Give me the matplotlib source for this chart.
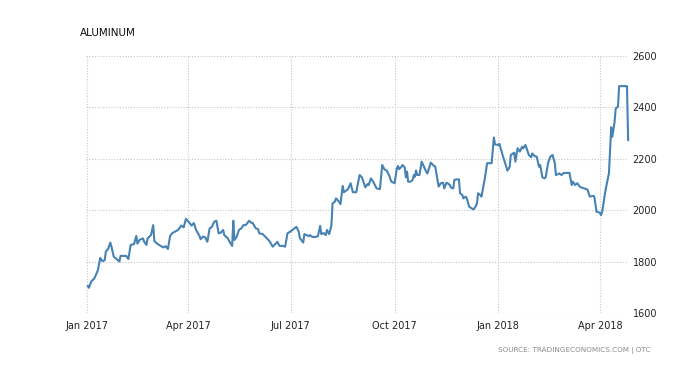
import matplotlib
matplotlib.use("Agg")
import matplotlib.pyplot as plt
import matplotlib.dates as mdates
import pandas as pd

title = "ALUMINUM"
source = "SOURCE: TRADINGECONOMICS.COM | OTC"

dates = [
    "2017-01-02", "2017-01-03", "2017-01-05", "2017-01-08", "2017-01-11", "2017-01-13", "2017-01-15",
    "2017-01-17", "2017-01-18", "2017-01-20", "2017-01-22", "2017-01-23", "2017-01-25", "2017-01-28",
    "2017-01-30", "2017-01-31", "2017-02-05", "2017-02-07", "2017-02-09", "2017-02-12", "2017-02-14",
    "2017-02-15", "2017-02-17", "2017-02-20", "2017-02-21", "2017-02-23", "2017-02-24", "2017-02-27",
    "2017-03-01", "2017-03-02", "2017-03-05", "2017-03-08", "2017-03-10", "2017-03-12", "2017-03-14",
    "2017-03-16", "2017-03-18", "2017-03-23", "2017-03-26", "2017-03-28", "2017-03-30", "2017-04-02",
    "2017-04-04", "2017-04-06", "2017-04-08", "2017-04-11", "2017-04-12", "2017-04-14", "2017-04-16",
    "2017-04-18", "2017-04-20", "2017-04-22", "2017-04-24", "2017-04-26", "2017-04-28", "2017-04-30",
    "2017-05-02", "2017-05-03", "2017-05-06", "2017-05-08", "2017-05-10", "2017-05-11", "2017-05-12",
    "2017-05-14", "2017-05-16", "2017-05-18", "2017-05-20", "2017-05-22", "2017-05-25", "2017-05-27",
    "2017-05-28", "2017-05-31", "2017-06-02", "2017-06-03", "2017-06-06", "2017-06-09", "2017-06-12",
    "2017-06-15", "2017-06-17", "2017-06-19", "2017-06-21", "2017-06-24", "2017-06-26", "2017-06-28",
    "2017-07-01", "2017-07-04", "2017-07-06", "2017-07-08", "2017-07-09", "2017-07-12", "2017-07-13",
    "2017-07-15", "2017-07-17", "2017-07-18", "2017-07-20", "2017-07-23", "2017-07-25", "2017-07-27",
    "2017-07-28", "2017-07-30", "2017-08-01", "2017-08-02", "2017-08-04", "2017-08-06", "2017-08-07",
    "2017-08-09", "2017-08-10", "2017-08-12", "2017-08-14", "2017-08-16", "2017-08-17", "2017-08-20",
    "2017-08-21", "2017-08-23", "2017-08-25", "2017-08-28", "2017-08-29", "2017-08-31", "2017-09-02",
    "2017-09-03", "2017-09-05", "2017-09-07", "2017-09-08", "2017-09-10", "2017-09-12", "2017-09-15",
    "2017-09-18", "2017-09-19", "2017-09-20", "2017-09-22", "2017-09-24", "2017-09-26", "2017-09-28",
    "2017-10-01", "2017-10-03", "2017-10-04", "2017-10-05", "2017-10-07", "2017-10-08", "2017-10-10",
    "2017-10-11", "2017-10-12", "2017-10-13", "2017-10-15", "2017-10-17", "2017-10-18", "2017-10-19",
    "2017-10-20", "2017-10-21", "2017-10-23", "2017-10-25", "2017-10-27", "2017-10-29", "2017-10-30",
    "2017-11-01", "2017-11-02", "2017-11-05", "2017-11-06", "2017-11-08", "2017-11-09", "2017-11-11",
    "2017-11-13", "2017-11-14", "2017-11-16", "2017-11-17", "2017-11-19", "2017-11-20", "2017-11-22",
    "2017-11-23", "2017-11-25", "2017-11-27", "2017-11-28", "2017-11-30", "2017-12-01", "2017-12-03",
    "2017-12-04", "2017-12-06", "2017-12-08", "2017-12-10", "2017-12-12", "2017-12-13", "2017-12-14",
    "2017-12-16", "2017-12-17", "2017-12-20", "2017-12-22", "2017-12-25", "2017-12-26", "2017-12-28",
    "2017-12-29", "2018-01-01", "2018-01-02", "2018-01-03", "2018-01-05", "2018-01-07", "2018-01-09",
    "2018-01-11", "2018-01-12", "2018-01-15", "2018-01-16", "2018-01-18", "2018-01-20", "2018-01-22",
    "2018-01-23", "2018-01-25", "2018-01-26", "2018-01-28", "2018-01-30", "2018-01-31", "2018-02-02",
    "2018-02-04", "2018-02-06", "2018-02-07", "2018-02-09", "2018-02-11", "2018-02-12", "2018-02-14",
    "2018-02-16", "2018-02-18", "2018-02-20", "2018-02-21", "2018-02-24", "2018-02-26", "2018-02-28",
    "2018-03-02", "2018-03-05", "2018-03-07", "2018-03-08", "2018-03-10", "2018-03-12", "2018-03-14",
    "2018-03-16", "2018-03-18", "2018-03-21", "2018-03-23", "2018-03-26", "2018-03-27", "2018-03-29",
    "2018-04-01", "2018-04-02", "2018-04-03", "2018-04-06", "2018-04-09", "2018-04-11", "2018-04-12",
    "2018-04-14", "2018-04-15", "2018-04-17", "2018-04-18", "2018-04-25", "2018-04-26",
]

prices = [
    1705, 1698, 1722, 1736, 1767, 1814, 1802,
    1805, 1839, 1849, 1874, 1858, 1819, 1808,
    1800, 1822, 1822, 1810, 1865, 1868, 1900,
    1870, 1885, 1890, 1877, 1865, 1890, 1903,
    1942, 1880, 1868, 1860, 1855, 1860, 1849,
    1900, 1911, 1923, 1940, 1933, 1966, 1952,
    1940, 1950, 1923, 1900, 1887, 1897, 1895,
    1877, 1929, 1935, 1955, 1959, 1910, 1913,
    1923, 1903, 1891, 1875, 1861, 1959, 1884,
    1897, 1923, 1929, 1942, 1942, 1959, 1951,
    1951, 1929, 1926, 1910, 1907, 1894, 1880,
    1858, 1867, 1877, 1861, 1861, 1858, 1910,
    1918, 1929, 1935, 1916, 1891, 1874, 1907,
    1903, 1899, 1903, 1896, 1896, 1899, 1939,
    1907, 1911, 1903, 1923, 1907, 1942, 2027,
    2033, 2046, 2037, 2024, 2094, 2070, 2079,
    2085, 2105, 2070, 2070, 2094, 2137, 2128,
    2115, 2089, 2102, 2098, 2124, 2111, 2085,
    2082, 2128, 2176, 2159, 2154, 2137, 2112,
    2105, 2163, 2172, 2160, 2169, 2176, 2166,
    2128, 2150, 2111, 2111, 2118, 2137, 2130,
    2155, 2137, 2137, 2189, 2170, 2150, 2143,
    2170, 2185, 2172, 2170, 2117, 2092, 2105,
    2107, 2085, 2107, 2105, 2098, 2088, 2085,
    2118, 2120, 2120, 2066, 2059, 2046, 2053,
    2046, 2014, 2008, 2003, 2016, 2027, 2066,
    2059, 2053, 2124, 2183, 2183, 2183, 2283,
    2256, 2254, 2258, 2241, 2210, 2183, 2154,
    2169, 2215, 2224, 2189, 2241, 2228, 2247,
    2241, 2254, 2241, 2215, 2206, 2221, 2211,
    2208, 2169, 2176, 2128, 2124, 2130, 2183,
    2208, 2215, 2183, 2137, 2143, 2137, 2145,
    2145, 2145, 2098, 2111, 2098, 2105, 2092,
    2088, 2085, 2080, 2053, 2056, 2053, 1994,
    1990, 1981, 1994, 2079, 2144, 2323, 2286,
    2344, 2396, 2403, 2483, 2483, 2273,
]

xtick_dates = ["2017-01-01", "2017-04-01", "2017-07-01", "2017-10-01", "2018-01-01", "2018-04-01"]
xtick_labels = ["Jan 2017", "Apr 2017", "Jul 2017", "Oct 2017", "Jan 2018", "Apr 2018"]
yticks = [1600, 1800, 2000, 2200, 2400, 2600]

x = pd.to_datetime(dates)

fig = plt.figure(figsize=(6.92, 3.84), dpi=100)
ax = fig.add_axes([0.1236, 0.185, 0.7845, 0.669])

ax.plot(x, prices, color="#4682b4", linewidth=1.5, solid_joinstyle="round", clip_on=False)

ax.set_xlim(pd.Timestamp("2016-12-31"), pd.Timestamp("2018-04-26 06:00"))
ax.set_ylim(1600, 2600)
ax.set_xticks(pd.to_datetime(xtick_dates))
ax.set_xticklabels(xtick_labels)
ax.set_yticks(yticks)
ax.yaxis.tick_right()
ax.tick_params(axis="both", length=0, labelsize=7, colors="#222222")
ax.tick_params(axis="x", pad=6)
ax.tick_params(axis="y", pad=3)
for s in ax.spines.values():
    s.set_visible(False)
ax.grid(True, color="#c8c8c8", linestyle=(0, (1, 1.5)), linewidth=0.8)
ax.set_axisbelow(True)

fig.text(80 / 692, 1 - 33 / 384, title, fontsize=7.5, color="#111111", ha="left", va="center")
fig.text(650 / 692, 1 - 350 / 384, source, fontsize=5.2, color="#8a8a8a", ha="right", va="center")

fig.savefig("out.png", dpi=100)
